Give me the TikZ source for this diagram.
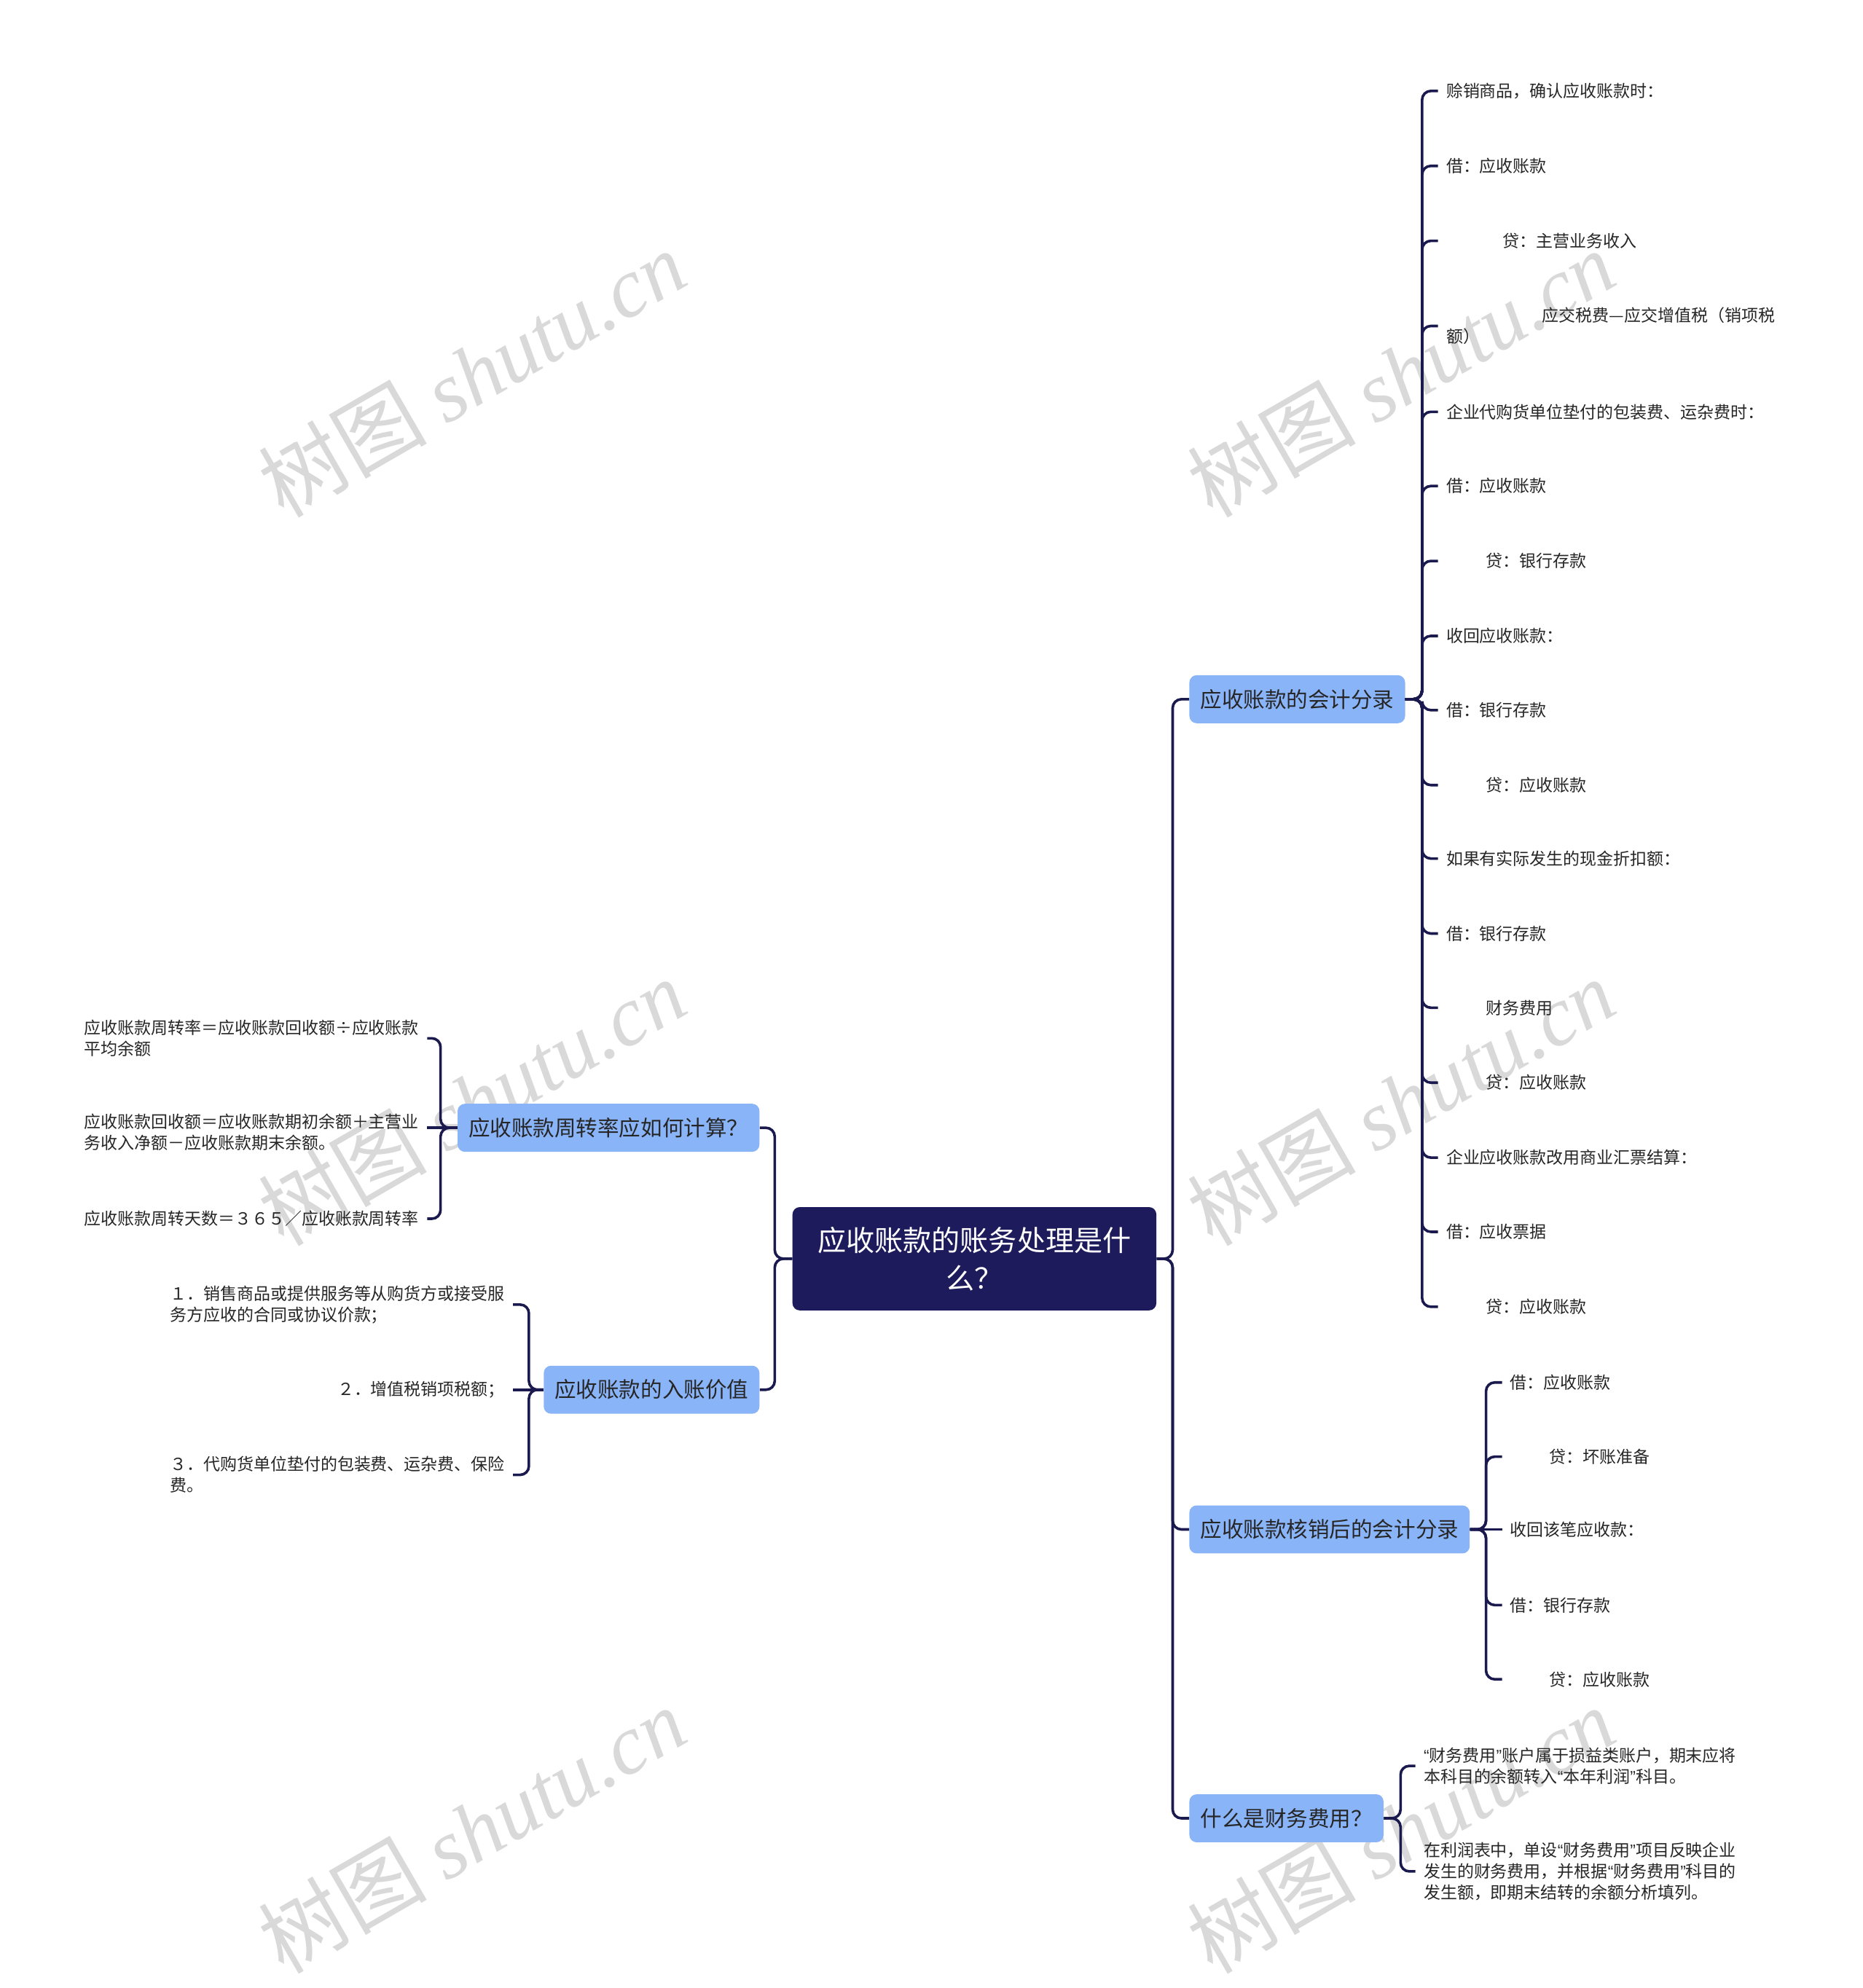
\documentclass[tikz,border=0pt]{standalone}
\usepackage{fontspec}
\setmainfont{Noto Sans CJK SC}
\newfontfamily\marklatin{Liberation Serif}
\newfontfamily\quotefont{Liberation Sans}
\newcommand{\openq}{{\quotefont “}}
\newcommand{\closeq}{{\quotefont ”}}
\definecolor{rootnavy}{HTML}{1E1B5C}
\definecolor{topicblue}{HTML}{8AB4F8}
\definecolor{linknavy}{HTML}{1B1A4F}
\definecolor{leaftext}{HTML}{262626}
\usetikzlibrary{positioning}

\begin{document}
\begin{tikzpicture}[
    x=0.5pt, y=-0.5pt,
    rootbox/.style={fill=rootnavy, text=white, rounded corners=5pt,
                    minimum width=250pt, minimum height=71pt,
                    font=\fontsize{19.6}{26}\selectfont, align=center},
    topic/.style={fill=topicblue, text=leaftext, rounded corners=5pt,
                  inner xsep=7.5pt, minimum height=33pt,
                  font=\fontsize{14.8}{18}\selectfont},
    leaf/.style={inner xsep=5.5pt, inner ysep=2pt, text=leaftext,
                 font=\fontsize{11.5}{14.5}\selectfont, align=left},
    link/.style={draw=linknavy, line width=1.8pt, rounded corners=6pt},
    wmark/.style={text=gray!30, rotate=30, font=\fontsize{58}{58}\selectfont}
  ]
  \fill[white] (0,0) rectangle (2560,2729);
  % watermark
  \foreach \wx/\wy [count=\i] in {648/513, 1925/513, 648/1514, 1925/1514, 648/2515, 1925/2515}
    \node[wmark] (wm\i) at (\wx,\wy) {树图 {\marklatin\itshape shutu.cn}};

  % centre and first level
  \node[rootbox] (root) at (1339,1730) {应收账款的账务处理是什\\么？};
  \node[topic, anchor=west] (acct) at (1634,961) {应收账款的会计分录};
  \node[topic, anchor=west] (writeoff) at (1634,2102) {应收账款核销后的会计分录};
  \node[topic, anchor=west] (fincost) at (1634,2499) {什么是财务费用？};
  \node[topic, anchor=east] (turnover) at (1044,1550) {应收账款周转率应如何计算？};
  \node[topic, anchor=east] (bookval) at (1044,1910) {应收账款的入账价值};
  \foreach \t in {acct, writeoff, fincost}
    \draw[link] (root.east) -- ++(22,0) |- (\t.west);
  \foreach \t in {turnover, bookval}
    \draw[link] (root.west) -- ++(-24,0) |- (\t.east);

  % entries
  \foreach \y/\txt [count=\i] in {
      125/赊销商品，确认应收账款时：,
      228/借：应收账款,
      331/\hspace*{39pt}贷：主营业务收入,
      448/{\hspace*{66pt}应交税费—应交增值税（销项税\\额）},
      566/企业代购货单位垫付的包装费、运杂费时：,
      668/借：应收账款,
      771/\hspace*{27.5pt}贷：银行存款,
      874/收回应收账款：,
      976/借：银行存款,
      1079/\hspace*{27.5pt}贷：应收账款,
      1180/如果有实际发生的现金折扣额：,
      1283/借：银行存款,
      1385/\hspace*{27.5pt}财务费用,
      1488/\hspace*{27.5pt}贷：应收账款,
      1591/企业应收账款改用商业汇票结算：,
      1693/借：应收票据,
      1796/\hspace*{27.5pt}贷：应收账款} {
    \node[leaf, anchor=west] (acct-\i) at (1976,\y) {\txt};
    \draw[link] (acct.east) -- ++(23,0) |- (acct-\i.west);
  }

  % write-off
  \foreach \y/\txt [count=\i] in {
      1900/借：应收账款,
      2002/\hspace*{27pt}贷：坏账准备,
      2102/收回该笔应收款：,
      2206/借：银行存款,
      2308/\hspace*{27pt}贷：应收账款} {
    \node[leaf, anchor=west] (woff-\i) at (2064,\y) {\txt};
    \ifnum\i=3
      \draw[link] (writeoff.east) -- (woff-\i.west);
    \else
      \draw[link] (writeoff.east) -- ++(22,0) |- (woff-\i.west);
    \fi
  }

  % finance cost
  \foreach \y/\txt [count=\i] in {
      2427/{\openq 财务费用\closeq 账户属于损益类账户，期末应将\\本科目的余额转入\openq 本年利润\closeq 科目。},
      2572/{在利润表中，单设\openq 财务费用\closeq 项目反映企业\\发生的财务费用，并根据\openq 财务费用\closeq 科目的\\发生额，即期末结转的余额分析填列。}} {
    \node[leaf, anchor=west] (cost-\i) at (1945,\y) {\txt};
    \draw[link] (fincost.east) -- ++(23,0) |- (cost-\i.west);
  }

  % turnover
  \foreach \y/\txt [count=\i] in {
      1427/{应收账款周转率＝应收账款回收额÷应收账款\\平均余额},
      1556/{应收账款回收额＝应收账款期初余额＋主营业\\务收入净额－应收账款期末余额。},
      1675/应收账款周转天数＝３６５／应收账款周转率} {
    \node[leaf, anchor=east] (turn-\i) at (587,\y) {\txt};
    \ifnum\i=2
      \draw[link] (turnover.west) -- (turnover.west -| turn-\i.east);
    \else
      \draw[link] (turnover.west) -- ++(-23,0) |- (turn-\i.east);
    \fi
  }

  % book value
  \foreach \y/\txt [count=\i] in {
      1793/{１．销售商品或提供服务等从购货方或接受服\\务方应收的合同或协议价款；},
      1910/２．增值税销项税额；,
      2027/{３．代购货单位垫付的包装费、运杂费、保险\\费。}} {
    \node[leaf, anchor=east] (book-\i) at (705,\y) {\txt};
    \ifnum\i=2
      \draw[link] (bookval.west) -- (book-\i.east);
    \else
      \draw[link] (bookval.west) -- ++(-20,0) |- (book-\i.east);
    \fi
  }
\end{tikzpicture}
\end{document}
